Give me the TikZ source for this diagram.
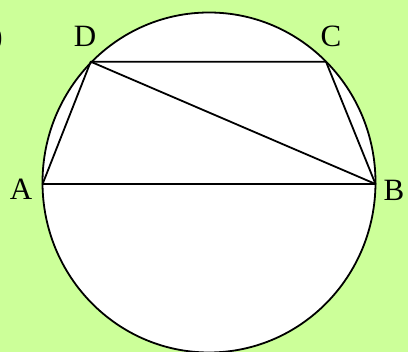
\documentclass[tikz,border=0pt]{standalone}
\usepackage{fontspec}
\setmainfont{Liberation Serif}
\usepackage{xcolor}
\definecolor{paper}{RGB}{204,255,153}

\begin{document}
\begin{tikzpicture}[
    x=1pt, y=-1pt,
    chord/.style={line width=1.8pt, line join=round},
    vlabel/.style={font=\fontsize{31}{31}\selectfont, inner sep=0pt}
]

% Page and background
\useasboundingbox (0,0) rectangle (408,352);
\clip (0,0) rectangle (408,352);
\fill[paper] (0,0) rectangle (408,352);

% Circle
\draw[chord, fill=white] (209,182.5) ellipse [x radius=166.5pt, y radius=170pt];

% Points on the circle
\coordinate (A) at (42.6,184);
\coordinate (B) at (375.5,184);
\coordinate (C) at (326,61.7);
\coordinate (D) at (90.7,61.7);

% Quadrilateral and diagonal
\draw[chord] (A) -- (B) -- (C) -- (D) -- cycle;
\draw[chord] (D) -- (B);

% Labels
\node[vlabel] (labA) at (21,189) {A};
\node[vlabel] (labB) at (394,190) {B};
\node[vlabel] (labC) at (331,36) {C};
\node[vlabel] (labD) at (85,36) {D};
\node[vlabel, anchor=east] (labcut) at (3,39) {)};

\end{tikzpicture}
\end{document}
